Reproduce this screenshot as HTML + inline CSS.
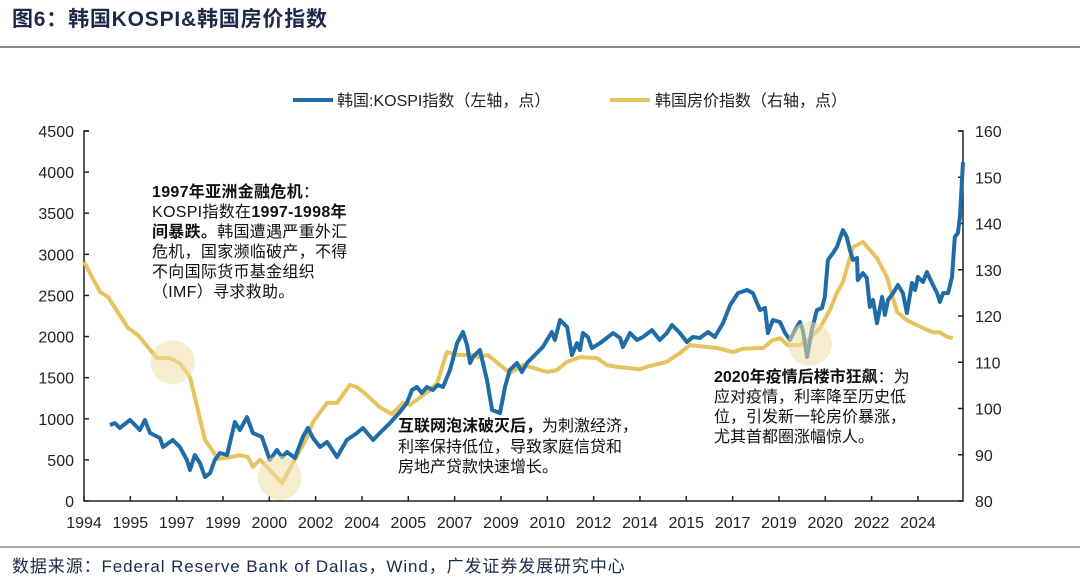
<!DOCTYPE html>
<html><head><meta charset="utf-8">
<style>
html,body{margin:0;padding:0;background:#fff;}
svg{display:block;font-family:"Liberation Sans","Noto Sans CJK SC",sans-serif;}
</style></head>
<body>
<svg id="chart" width="1080" height="578" viewBox="0 0 1080 578" xmlns="http://www.w3.org/2000/svg">
  <text x="12" y="26" font-size="21" font-weight="bold" fill="#1c2a4a" letter-spacing="0.8">图6：韩国KOSPI&amp;韩国房价指数</text>
  <line x1="0" y1="47" x2="1080" y2="47" stroke="#8a8a8a" stroke-width="2"/>
  <g>
    <line x1="293" y1="100" x2="333" y2="100" stroke="#1f6ca6" stroke-width="4"/>
    <text x="337" y="106" font-size="16" fill="#222">韩国:KOSPI指数（左轴，点）</text>
    <line x1="610" y1="100" x2="650" y2="100" stroke="#e6c35f" stroke-width="4"/>
    <text x="655" y="106" font-size="16" fill="#222">韩国房价指数（右轴，点）</text>
  </g>
  <g id="highlights"></g>
  <g id="axes"></g>
  <g id="series"></g>
  <g font-size="16" fill="#111" letter-spacing="0.3">
    <text x="152" y="197"><tspan font-weight="bold">1997年亚洲金融危机</tspan>：</text>
    <text x="152" y="217">KOSPI指数在<tspan font-weight="bold">1997-1998年</tspan></text>
    <text x="152" y="237"><tspan font-weight="bold">间暴跌。</tspan>韩国遭遇严重外汇</text>
    <text x="152" y="257">危机，国家濒临破产，不得</text>
    <text x="152" y="277">不向国际货币基金组织</text>
    <text x="152" y="297">（IMF）寻求救助。</text>
  </g>
  <g font-size="16" fill="#111">
    <text x="398" y="431"><tspan font-weight="bold">互联网泡沫破灭后，</tspan>为刺激经济，</text>
    <text x="398" y="452">利率保持低位，导致家庭信贷和</text>
    <text x="398" y="472">房地产贷款快速增长。</text>
  </g>
  <g font-size="16" fill="#111">
    <text x="714" y="382"><tspan font-weight="bold">2020年疫情后楼市狂飙</tspan>：为</text>
    <text x="714" y="402">应对疫情，利率降至历史低</text>
    <text x="714" y="422">位，引发新一轮房价暴涨，</text>
    <text x="714" y="442">尤其首都圈涨幅惊人。</text>
  </g>
  <line x1="0" y1="547" x2="1080" y2="547" stroke="#8a8a8a" stroke-width="1.5"/>
  <text x="12" y="572" font-size="17" fill="#1c2a4a" letter-spacing="0.9">数据来源：Federal Reserve Bank of Dallas，Wind，广发证券发展研究中心</text>
</svg>
<script>
const kospiDates=[1994.78,1994.96,1995.13,1995.49,1995.74,1995.84,1996.02,1996.20,1996.55,1996.66,1997.01,1997.26,1997.51,1997.62,1997.79,1997.97,1998.15,1998.33,1998.50,1998.68,1998.93,1999.21,1999.39,1999.64,1999.85,2000.17,2000.45,2000.70,2000.88,2001.06,2001.34,2001.62,2001.80,2001.98,2002.23,2002.48,2002.83,2003.18,2003.54,2003.75,2004.11,2004.35,2004.71,2005.06,2005.31,2005.49,2005.67,2005.84,2006.02,2006.23,2006.41,2006.59,2006.84,2007.09,2007.30,2007.44,2007.55,2007.65,2007.90,2008.15,2008.33,2008.61,2008.79,2008.96,2009.21,2009.39,2009.57,2009.78,2010.13,2010.45,2010.56,2010.74,2010.99,2011.16,2011.34,2011.45,2011.55,2011.73,2011.87,2012.16,2012.40,2012.62,2012.87,2012.97,2013.22,2013.47,2013.68,2014.00,2014.28,2014.53,2014.71,2014.99,2015.24,2015.45,2015.70,2015.99,2016.23,2016.52,2016.77,2017.05,2017.37,2017.58,2017.83,2018.01,2018.11,2018.29,2018.54,2018.72,2018.89,2019.07,2019.25,2019.35,2019.50,2019.67,2019.85,2020.03,2020.13,2020.24,2020.42,2020.56,2020.77,2020.91,2021.02,2021.13,2021.27,2021.30,2021.48,2021.62,2021.73,2021.84,2021.98,2022.16,2022.26,2022.37,2022.55,2022.72,2022.90,2023.04,2023.22,2023.33,2023.43,2023.61,2023.75,2023.93,2024.11,2024.21,2024.32,2024.50,2024.64,2024.74,2024.85,2024.92,2025.03];
const kospiValues=[924,948,888,985,900,863,985,827,766,657,742,657,499,377,559,462,292,340,499,584,559,961,863,1021,827,778,499,620,535,596,523,778,888,766,657,717,535,742,827,888,742,827,948,1082,1192,1350,1386,1313,1386,1350,1411,1386,1593,1921,2055,1897,1678,1751,1836,1471,1107,1070,1386,1593,1678,1569,1678,1751,1873,2055,1958,2201,2116,1775,1921,1836,2043,1994,1860,1921,1982,2043,1982,1873,2043,1958,1994,2079,1958,2043,2140,2043,1933,1994,1982,2055,1994,2164,2383,2529,2566,2529,2323,2347,2043,2201,2177,2043,1958,2079,2177,2079,1751,2079,2323,2347,2481,2931,3016,3089,3295,3210,3052,2931,2955,2687,2772,2712,2359,2444,2164,2481,2262,2444,2529,2627,2529,2286,2651,2566,2724,2663,2785,2651,2529,2420,2529,2529,2724,3210,3259,3453,4122];
const houseDates=[1993.86,1994.43,1994.71,1995.42,1995.77,1996.45,1996.91,1997.26,1997.62,1998.15,1998.61,1999.04,1999.39,1999.67,1999.85,2000.10,2000.88,2001.27,2001.77,2001.98,2002.48,2002.83,2003.29,2003.54,2003.89,2004.35,2004.78,2005.17,2005.42,2006.13,2006.38,2006.73,2007.09,2007.62,2007.83,2008.18,2008.61,2008.96,2009.43,2010.28,2010.63,2010.99,2011.45,2012.05,2012.40,2012.76,2013.57,2013.93,2014.53,2014.99,2015.35,2015.95,2016.30,2016.87,2017.23,2017.94,2018.29,2018.54,2018.82,2019.25,2019.60,2019.96,2020.31,2020.56,2020.77,2021.13,2021.48,2021.98,2022.33,2022.69,2023.04,2023.61,2023.96,2024.21,2024.46,2024.67];
const houseValues=[131.7,125.2,124.1,117.4,115.9,110.9,110.9,109.8,106.8,93.2,89.1,89.5,89.9,89.5,87.4,88.9,83.9,88.2,93.8,97.1,101.2,101.2,105.1,104.6,102.9,100.3,98.8,101.2,100.8,104.0,105.5,112.2,111.6,111.6,111.1,111.6,109.4,107.7,109.4,107.9,108.3,110.1,111.1,110.9,109.4,109.0,108.5,109.2,110.1,112.0,113.7,113.3,113.1,112.2,112.9,113.1,114.8,115.2,113.7,113.7,115.2,117.4,121.3,125.0,127.3,134.9,136.0,132.5,128.4,120.9,119.1,117.4,116.5,116.5,115.5,115.2];
const xTickLabels=["1994","1995","1997","1999","2000","2002","2004","2005","2007","2009","2010","2012","2014","2015","2017","2019","2020","2022","2024"];
const leftTicks=[0,500,1000,1500,2000,2500,3000,3500,4000,4500];
const rightTicks=[80,90,100,110,120,130,140,150,160];
const highlightDates=[1997.0,2000.8,2019.6];
const highlightValues=[110,85,114];

const NS="http://www.w3.org/2000/svg";
const X0=84,X1=963,Y0=501,Y1=131;
const T0=1993.86,T1=2025.03;
const xs=t=>X0+(t-T0)/(T1-T0)*(X1-X0);
const yl=v=>Y0-(v-0)/(4500-0)*(Y0-Y1);
const yr=v=>Y0-(v-80)/(160-80)*(Y0-Y1);
function mk(tag,attrs,parent){const e=document.createElementNS(NS,tag);for(const k in attrs)e.setAttribute(k,attrs[k]);parent.appendChild(e);return e;}

const hl=document.getElementById('highlights');
highlightDates.forEach((d,i)=>{
  const c=mk('circle',{cx:xs(d),cy:yr(highlightValues[i]),r:22,fill:'#efdca6','fill-opacity':0.55},hl);
  
  
});

const ax=document.getElementById('axes');
const la=mk('path',{d:`M${X0+5},${Y1}H${X0}V${Y0}H${X1}V${Y1}H${X1-5}`,fill:'none',stroke:'#222','stroke-width':1.5},ax);


leftTicks.forEach(v=>{
  const y=yl(v);
  mk('line',{x1:X0,y1:y,x2:X0+5,y2:y,stroke:'#222','stroke-width':1.5},ax);
  const t=mk('text',{x:74,y:y+6,'text-anchor':'end','font-size':16,fill:'#222'},ax);
  t.textContent=v;
  
  
});
rightTicks.forEach(v=>{
  const y=yr(v);
  mk('line',{x1:X1-5,y1:y,x2:X1,y2:y,stroke:'#222','stroke-width':1.5},ax);
  const t=mk('text',{x:975,y:y+6,'font-size':16,fill:'#222'},ax);
  t.textContent=v;
  
  
});
const step=(T1-T0)/(X1-X0)*46.33;
xTickLabels.forEach((lab,i)=>{
  const x=xs(T0+i*step);
  mk('line',{x1:x,y1:Y0,x2:x,y2:Y0-5,stroke:'#222','stroke-width':1.5},ax);
  const t=mk('text',{x:x,y:528,'text-anchor':'middle','font-size':16,fill:'#222'},ax);
  t.textContent=lab;
  
  
});

const sg=document.getElementById('series');
const hp=mk('path',{d:houseDates.map((d,i)=>(i?'L':'M')+xs(d).toFixed(1)+','+yr(houseValues[i]).toFixed(1)).join(''),fill:'none',stroke:'#e6c35f','stroke-width':4,'stroke-linejoin':'round'},sg);


const kp=mk('path',{d:kospiDates.map((d,i)=>(i?'L':'M')+xs(d).toFixed(1)+','+yl(kospiValues[i]).toFixed(1)).join(''),fill:'none',stroke:'#1f6ca6','stroke-width':4,'stroke-linejoin':'round'},sg);


sg.parentNode.insertBefore(hl,sg.nextSibling);
</script>
</body></html>
